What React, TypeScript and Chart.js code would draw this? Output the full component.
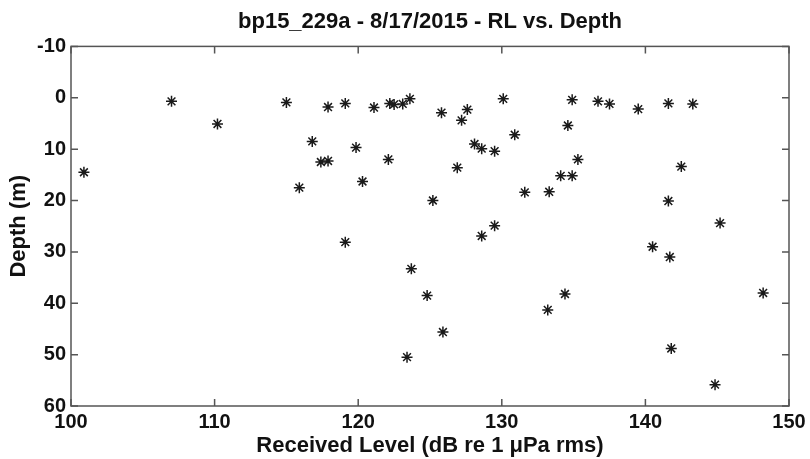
import React, { useEffect, useRef } from "react";
import { Chart, registerables } from "chart.js";

Chart.register(...registerables);

const titleText = "bp15_229a - 8/17/2015 - RL vs. Depth";
const xAxisTitle = "Received Level (dB re 1 \u03BCPa rms)";
const yAxisTitle = "Depth (m)";

const xTicks = [100, 110, 120, 130, 140, 150];
const yTicks = [-10, 0, 10, 20, 30, 40, 50, 60];

// Received level (dB)
const receivedLevel = [
  100.9, 107.0, 110.2, 115.0, 117.9, 119.1, 121.1, 122.2, 122.5, 123.1,
  123.6, 116.8, 117.4, 117.9, 115.9, 119.85, 120.3, 122.1, 119.1, 123.4,
  125.8, 127.6, 127.2, 130.1, 128.1, 128.6, 129.5, 130.9, 126.9, 125.2,
  131.6, 133.3, 134.9, 134.6, 135.3, 134.1, 134.9, 136.7, 137.5, 139.5,
  141.6, 143.3, 142.5, 141.6, 145.2, 129.5, 128.6, 123.7, 124.8, 125.9,
  133.2, 134.4, 140.5, 141.7, 148.2, 141.8, 144.85,
];

// Depth (m)
const depth = [
  14.5, 0.7, 5.1, 0.9, 1.8, 1.1, 1.9, 1.1, 1.3, 1.2,
  0.2, 8.5, 12.5, 12.3, 17.5, 9.7, 16.3, 12.0, 28.1, 50.5,
  2.9, 2.3, 4.4, 0.2, 9.0, 9.9, 10.4, 7.2, 13.6, 20.0,
  18.4, 18.3, 0.4, 5.4, 12.0, 15.2, 15.2, 0.7, 1.2, 2.2,
  1.1, 1.2, 13.4, 20.1, 24.4, 24.9, 26.9, 33.3, 38.5, 45.6,
  41.3, 38.2, 29.0, 31.0, 38.0, 48.8, 55.85,
];

const FONT = "'Liberation Sans', Arial, Helvetica, sans-serif";

const framePlugin = {
  id: "frame",
  afterDraw(chart: any) {
    const { ctx, chartArea, scales } = chart;
    const { left, right, top, bottom } = chartArea;
    const tl = 7;
    ctx.save();
    ctx.strokeStyle = "#555";
    ctx.lineWidth = 1.5;
    ctx.strokeRect(left, top, right - left, bottom - top);
    ctx.beginPath();
    for (const v of xTicks) {
      const px = scales.x.getPixelForValue(v);
      ctx.moveTo(px, bottom);
      ctx.lineTo(px, bottom - tl);
      ctx.moveTo(px, top);
      ctx.lineTo(px, top + tl);
    }
    for (const v of yTicks) {
      const py = scales.y.getPixelForValue(v);
      ctx.moveTo(left, py);
      ctx.lineTo(left + tl, py);
      ctx.moveTo(right, py);
      ctx.lineTo(right - tl, py);
    }
    ctx.stroke();
    ctx.restore();
  },
};

export default function App() {
  const canvasRef = useRef<HTMLCanvasElement | null>(null);

  useEffect(() => {
    document.body.style.margin = "0";
    const canvas = canvasRef.current;
    if (!canvas) return;
    const points = receivedLevel.map((x, i) => ({ x, y: depth[i] }));
    const chart = new Chart(canvas, {
      type: "scatter",
      data: {
        datasets: [
          {
            data: points,
            pointStyle: "star",
            pointRadius: 5.5,
            pointBorderWidth: 1.5,
            borderColor: "#1a1a1a",
            backgroundColor: "#1a1a1a",
          },
        ],
      },
      options: {
        animation: false,
        responsive: false,
        devicePixelRatio: 1,
        layout: { padding: { left: 0, right: 21, top: 0, bottom: 0 } },
        plugins: {
          legend: { display: false },
          tooltip: { enabled: false },
          title: {
            display: true,
            text: titleText,
            fullSize: false,
            color: "#111",
            font: { family: FONT, size: 22, weight: "bold", lineHeight: 1.2 },
            padding: { top: 9, bottom: 11 },
          },
        },
        scales: {
          x: {
            type: "linear",
            min: 100,
            max: 150,
            ticks: {
              stepSize: 10,
              color: "#111",
              padding: 4,
              font: { family: FONT, size: 20, weight: "bold" },
            },
            grid: { display: false, drawTicks: false },
            border: { display: false },
            title: {
              display: true,
              text: xAxisTitle,
              color: "#111",
              font: { family: FONT, size: 22, weight: "bold", lineHeight: 1.2 },
              padding: { top: 0, bottom: 0 },
            },
            afterFit: (s: any) => {
              s.height = 53;
            },
          },
          y: {
            type: "linear",
            reverse: true,
            min: -10,
            max: 60,
            ticks: {
              stepSize: 10,
              color: "#111",
              padding: 5,
              font: { family: FONT, size: 20, weight: "bold" },
            },
            grid: { display: false, drawTicks: false },
            border: { display: false },
            title: {
              display: true,
              text: yAxisTitle,
              color: "#111",
              font: { family: FONT, size: 22, weight: "bold", lineHeight: 1.2 },
              padding: { top: 6, bottom: 0 },
            },
            afterFit: (s: any) => {
              s.width = 71;
            },
          },
        },
      },
      plugins: [framePlugin],
    });
    return () => chart.destroy();
  }, []);

  return (
    <div style={{ width: 810, height: 459, background: "#fff" }}>
      <canvas ref={canvasRef} width={810} height={459} />
    </div>
  );
}
